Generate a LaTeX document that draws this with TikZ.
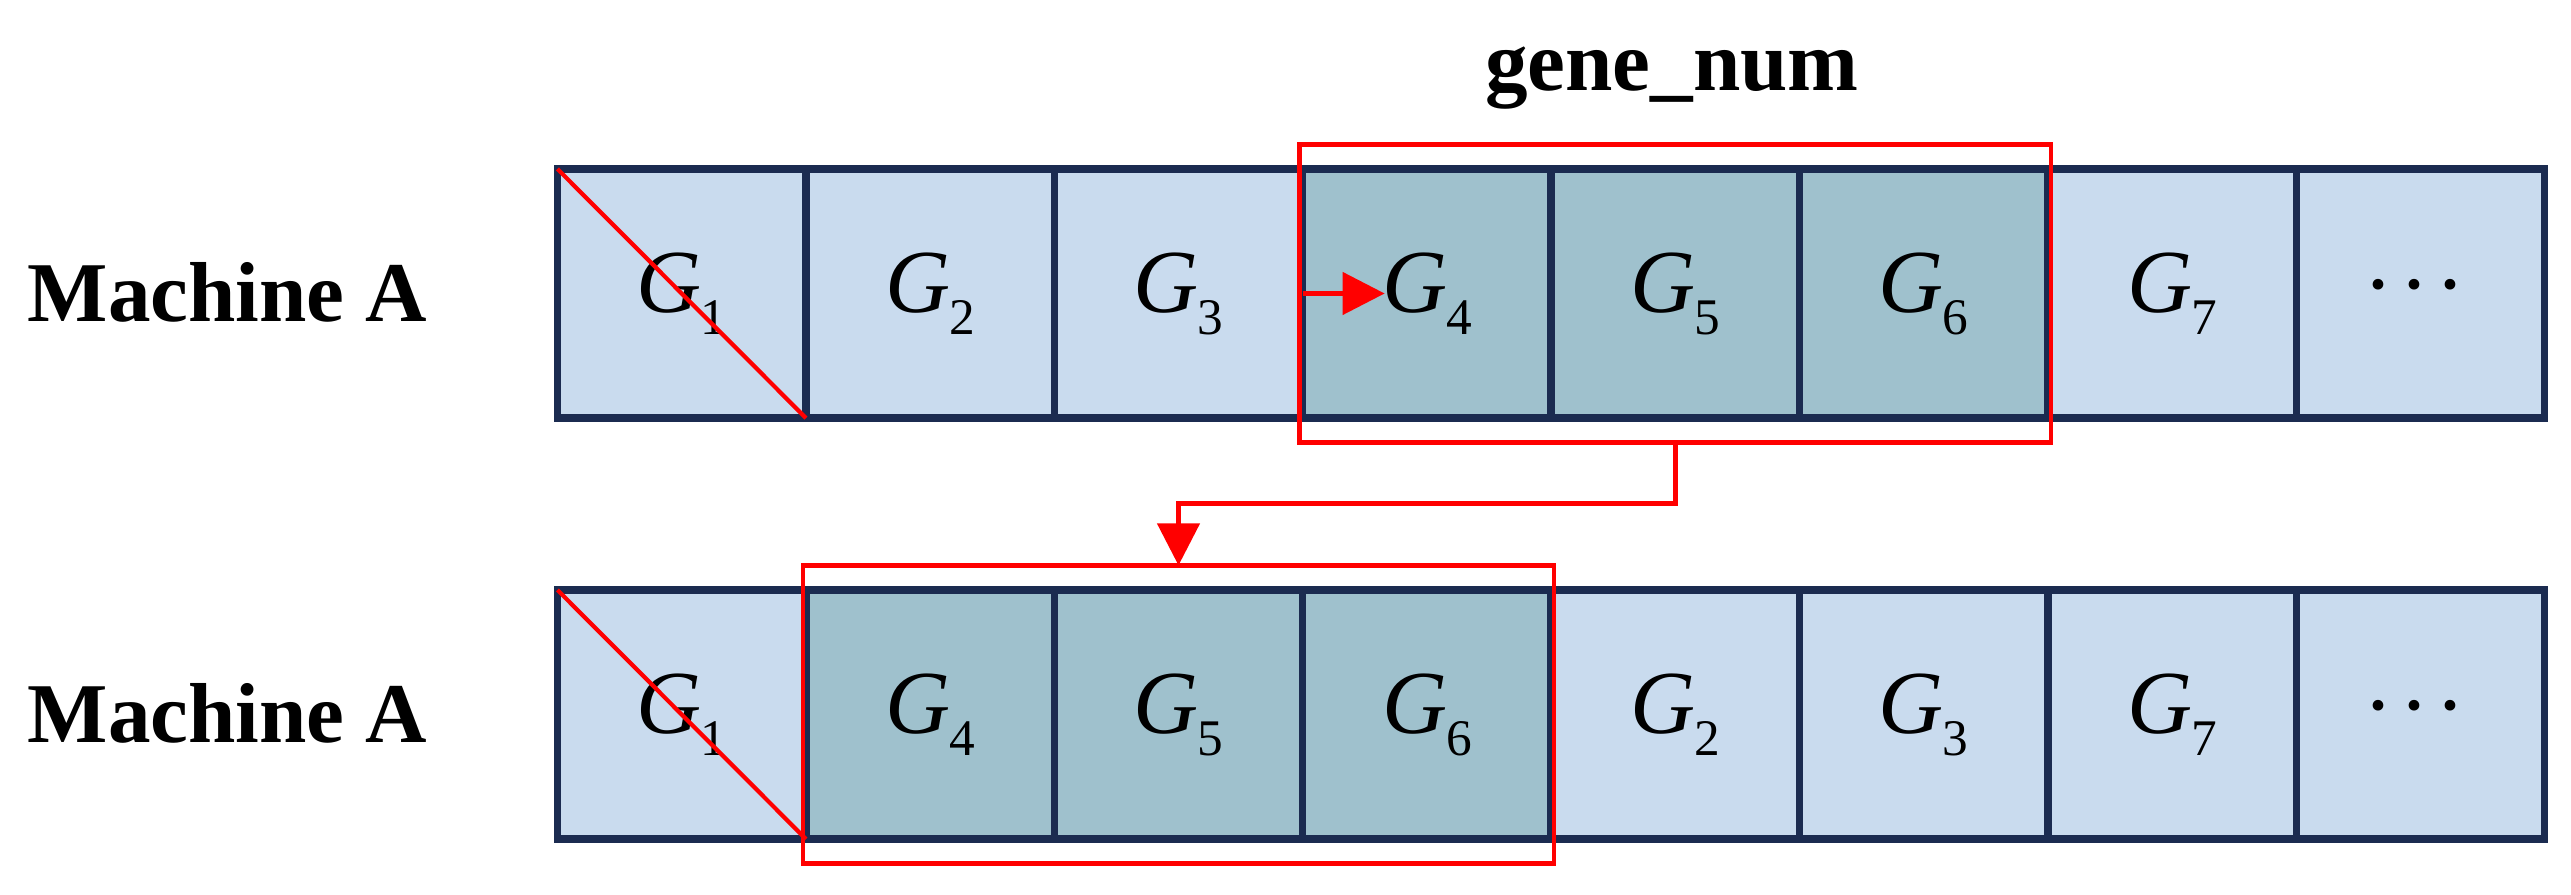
\documentclass[tikz,border=0pt]{standalone}
\usepackage{fontspec}
\setmainfont{Liberation Serif}
\usetikzlibrary{arrows.meta,fit,calc}
\definecolor{navyline}{RGB}{27,43,80}
\definecolor{lightcell}{RGB}{201,219,238}
\definecolor{darkcell}{RGB}{159,193,205}
\definecolor{redline}{RGB}{255,0,0}
\newcommand\glab[1]{{\fontsize{25.6pt}{28pt}\selectfont\itshape G}\kern-0.01cm\raisebox{-0.22cm}{\fontsize{14.6pt}{16pt}\selectfont #1}}
\newcommand\gdots{\raisebox{-0.21cm}[0pt][0pt]{\fontsize{25.6pt}{28pt}\selectfont ·\kern0.065cm·\kern0.065cm·\kern0.12cm}}
\begin{document}
\begin{tikzpicture}[x=0.01cm,y=-0.01cm,
  cell/.style={draw=navyline,line width=2.1pt,minimum width=2.484cm,minimum height=2.49cm,inner sep=0pt,outer sep=0pt,fill=lightcell},
  selcell/.style={cell,fill=darkcell},
  redbox/.style={draw=redline,line width=1.3pt,inner xsep=0.03cm,inner ysep=0.245cm,outer sep=0pt},
  redarrow/.style={draw=redline,line width=1.3pt,-{Triangle[length=0.42cm,width=0.42cm]}},
  cross/.style={draw=redline,line width=1.2pt},
  mlabel/.style={font=\fontsize{24.2pt}{26pt}\selectfont\bfseries,inner sep=0pt}]
\useasboundingbox (0,0) rectangle (2571,895);
% top row
\node[cell]    (t1) at (681.7,293.5) {\glab{1}};
\node[cell]    (t2) at (930.1,293.5) {\glab{2}};
\node[cell]    (t3) at (1178.5,293.5) {\glab{3}};
\node[selcell] (t4) at (1426.9,293.5) {\glab{4}};
\node[selcell] (t5) at (1675.3,293.5) {\glab{5}};
\node[selcell] (t6) at (1923.7,293.5) {\glab{6}};
\node[cell]    (t7) at (2172.1,293.5) {\glab{7}};
\node[cell]    (t8) at (2420.5,293.5) {\gdots};
% bottom row
\node[cell]    (b1) at (681.7,714.5) {\glab{1}};
\node[selcell] (b2) at (930.1,714.5) {\glab{4}};
\node[selcell] (b3) at (1178.5,714.5) {\glab{5}};
\node[selcell] (b4) at (1426.9,714.5) {\glab{6}};
\node[cell]    (b5) at (1675.3,714.5) {\glab{2}};
\node[cell]    (b6) at (1923.7,714.5) {\glab{3}};
\node[cell]    (b7) at (2172.1,714.5) {\glab{7}};
\node[cell]    (b8) at (2420.5,714.5) {\gdots};
% crossed-out first genes
\draw[cross] (t1.north west) -- (t1.south east);
\draw[cross] (b1.north west) -- (b1.south east);
% red selection boxes
\node[redbox,fit=(t4)(t6)] (rt) {};
\node[redbox,fit=(b2)(b4)] (rb) {};
% labels
\node[mlabel,anchor=base west] (ma1) at (27,321.5) {Machine A};
\node[mlabel,anchor=base west] (ma2) at (27,742.5) {Machine A};
\node[mlabel,anchor=base] (gn) at (1672,91) {gene\_num};
% arrows
\coordinate (a4) at ($(t4.west)+(82,0)$);
\draw[redarrow] (t4.west) -- (a4);
\draw[redarrow] (rt.south) -- ++(0,61) -| (rb.north);
\end{tikzpicture}
\end{document}
